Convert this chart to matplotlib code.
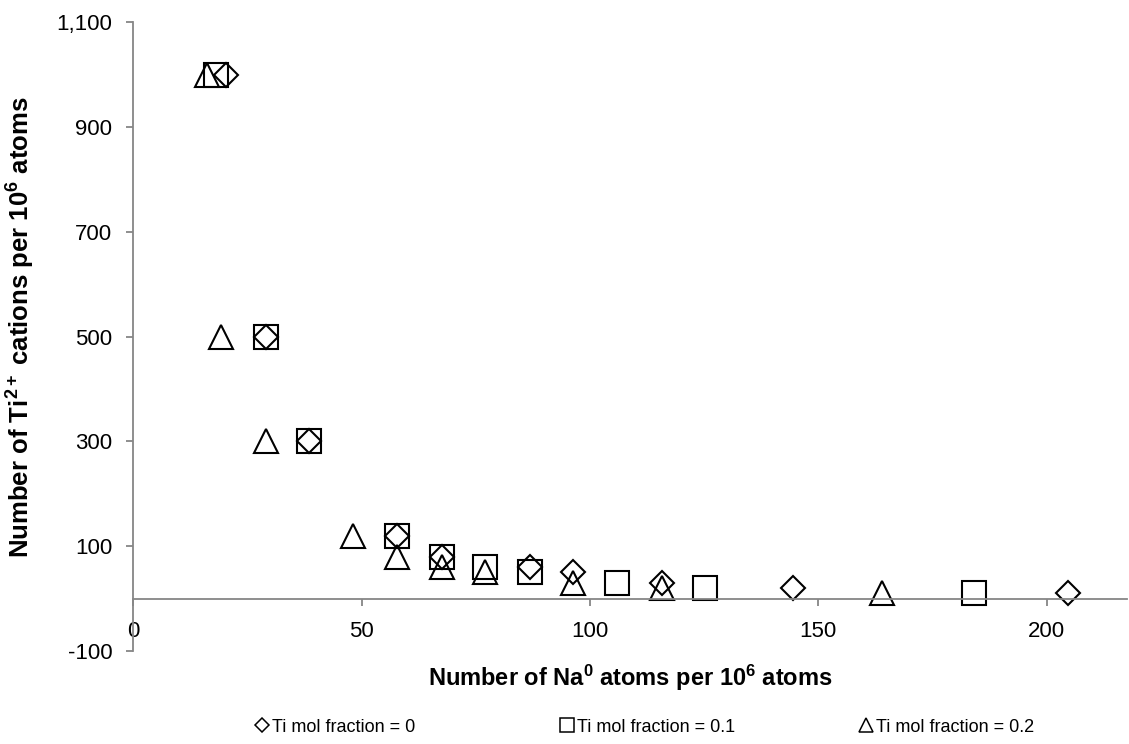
import matplotlib
matplotlib.use("Agg")
import matplotlib.pyplot as plt
from matplotlib.lines import Line2D
from matplotlib.ticker import FuncFormatter, FixedLocator

plt.rcParams['font.family'] = ['Liberation Sans', 'DejaVu Sans']
plt.rcParams['mathtext.fontset'] = 'custom'
plt.rcParams['mathtext.rm'] = 'Liberation Sans'
plt.rcParams['mathtext.bf'] = 'Liberation Sans:bold'
plt.rcParams['mathtext.it'] = 'Liberation Sans:italic'

# Data
ti0_x = [20.2, 29.0, 38.5, 57.8, 67.5, 86.9, 96.3, 115.7, 144.5, 204.7]
ti0_y = [1000, 500, 300, 120, 80, 60, 50, 30, 20, 10]
ti01_x = [18.1, 29.0, 38.5, 57.8, 67.5, 77.1, 86.9, 106.0, 125.2, 184.1]
ti01_y = [1000, 500, 300, 120, 80, 60, 50, 30, 20, 10]
ti02_x = [16.2, 19.3, 29.0, 48.1, 57.8, 67.5, 77.1, 96.3, 115.7, 164.0]
ti02_y = [1000, 500, 300, 120, 80, 60, 50, 30, 20, 10]
labels = ["Ti mol fraction = 0", "Ti mol fraction = 0.1", "Ti mol fraction = 0.2"]
x_ticks = [0, 50, 100, 150, 200]
y_ticks = [-100, 100, 300, 500, 700, 900, 1100]

W, H = 1129, 744
fig = plt.figure(figsize=(W / 100, H / 100), dpi=100)
ax = fig.add_axes([133.3 / W, 1 - 651 / H, (1127 - 133.3) / W, (651 - 22.2) / H])

common = dict(linestyle='none', markerfacecolor='none', markeredgecolor='black', markeredgewidth=1.5)
ax.plot(ti0_x, ti0_y, marker='D', markersize=12.2, **common)
ax.plot(ti01_x, ti01_y, marker='s', markersize=17.5, **common)
ax.plot(ti02_x, ti02_y, marker='^', markersize=17.5, **common)

ax.set_xlim(0, 217.6)
ax.set_ylim(-100, 1100)

gray = '#868686'
ax.spines['top'].set_visible(False)
ax.spines['right'].set_visible(False)
ax.spines['left'].set_color(gray)
ax.spines['bottom'].set_color(gray)
ax.spines['left'].set_linewidth(1.3)
ax.spines['bottom'].set_linewidth(1.3)
ax.spines['bottom'].set_position(('data', 0))

ax.xaxis.set_major_locator(FixedLocator(x_ticks))
ax.yaxis.set_major_locator(FixedLocator(y_ticks))
ax.yaxis.set_major_formatter(FuncFormatter(lambda v, p: f"{int(v):,}"))
ax.tick_params(axis='both', colors=gray, labelcolor='black', labelsize=16, length=5, width=1.3, direction='out')
ax.tick_params(axis='x', pad=11)
ax.tick_params(axis='y', pad=10)

ax.set_xlabel(r"Number of Na$^{\mathbf{0}}$ atoms per 10$^{\mathbf{6}}$ atoms", fontsize=17, fontweight='bold')
ax.set_ylabel(r"Number of Ti$^{\mathbf{2+}}$ cations per 10$^{\mathbf{6}}$ atoms", fontsize=18.5, fontweight='bold')
ax.xaxis.set_label_coords(0.5, -0.0, transform=fig.transFigure) if False else None
ax.xaxis.set_label_coords(0.5, -(678 - 651) / (651 - 22.2) - 0.0)
ax.xaxis.label.set_verticalalignment('center')
ax.yaxis.set_label_coords(-(133.3 - 21) / (1127 - 133.3), (651 - 327) / (651 - 22.2))
ax.yaxis.label.set_verticalalignment('center')

markers = [('D', 7), ('s', 9.5), ('^', 9.5)]
centers = [262, 567, 866]
for (m, ms), lab, cx in zip(markers, labels, centers):
    h = Line2D([], [], marker=m, markersize=ms, **{**common, 'markeredgewidth': 1.1})
    fig.legend([h], [lab], loc='center left', bbox_to_anchor=((cx - 7.2) / W, 1 - 727 / H),
               frameon=False, fontsize=13, handlelength=0.8, handletextpad=0.15,
               borderpad=0, borderaxespad=0)

fig.savefig("out.png", dpi=100)
